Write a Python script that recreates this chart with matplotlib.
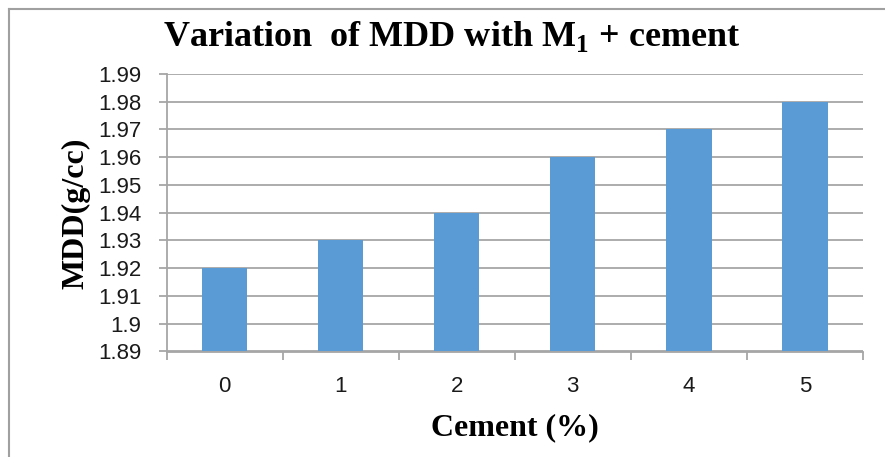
import numpy as np
import matplotlib.pyplot as plt
from matplotlib.lines import Line2D

# data
cement = ['0', '1', '2', '3', '4', '5']
mdd = [1.92, 1.93, 1.94, 1.96, 1.97, 1.98]
yticks = [1.89, 1.90, 1.91, 1.92, 1.93, 1.94, 1.95, 1.96, 1.97, 1.98, 1.99]
ytick_labels = ['1.89', '1.9', '1.91', '1.92', '1.93', '1.94', '1.95',
                '1.96', '1.97', '1.98', '1.99']

plt.rcParams['mathtext.fontset'] = 'custom'
plt.rcParams['mathtext.rm'] = 'Liberation Serif:bold'
plt.rcParams['mathtext.bf'] = 'Liberation Serif:bold'

W, H = 885, 457
fig = plt.figure(figsize=(W / 100, H / 100), dpi=100)
ax = fig.add_axes([166.5 / W, 1 - 351.5 / H, (863 - 166.5) / W, (351.5 - 74) / H])

grey = '#a6a6a6'
x = np.arange(len(cement))
ax.bar(x, [v - 1.89 for v in mdd], bottom=1.89, width=0.39,
       color='#5b9bd5', zorder=3)

ax.set_xlim(-0.5, len(cement) - 0.5)
ax.set_ylim(1.89, 1.99)
ax.set_yticks(yticks)
ax.set_yticklabels(ytick_labels)
ax.set_xticks(x)
ax.set_xticklabels(cement)
ax.set_xticks(np.arange(-0.5, len(cement)), minor=True)

ax.grid(axis='y', color=grey, linewidth=1.3, zorder=0)
ax.tick_params(axis='x', which='major', length=0, pad=18,
               labelsize=16, labelcolor='#1a1a1a')
ax.tick_params(axis='x', which='minor', length=6, width=1.3, color=grey)
ax.tick_params(axis='y', length=6, width=1.3, color=grey, pad=12,
               labelsize=16, labelcolor='#1a1a1a')
for lab in ax.get_xticklabels() + ax.get_yticklabels():
    lab.set_family('Liberation Sans')

for s in ['top', 'right']:
    ax.spines[s].set_visible(False)
for s in ['left', 'bottom']:
    ax.spines[s].set_color(grey)
    ax.spines[s].set_linewidth(1.3)

serif = 'Liberation Serif'
fig.text(452 / W, 1 - 36 / H, 'Variation  of MDD with M$_{\\mathrm{1}}$ + cement',
         ha='center', va='center', fontsize=26, fontweight='bold',
         family=serif)
fig.text(515 / W, 1 - 428 / H, 'Cement (%)', ha='center', va='center',
         fontsize=23, fontweight='bold', family=serif)
fig.text(76 / W, 1 - 213 / H, 'MDD(g/cc)', rotation=90, ha='center',
         va='center', fontsize=23, fontweight='bold', family=serif)

# frame lines at top and left
fig.add_artist(Line2D([8.5 / W, 8.5 / W], [0, 1 - 8.5 / H], color='#a0a0a0',
                      linewidth=1.5, transform=fig.transFigure))
fig.add_artist(Line2D([8.5 / W, 1], [1 - 8.5 / H, 1 - 8.5 / H], color='#a0a0a0',
                      linewidth=1.5, transform=fig.transFigure))

fig.savefig('out.png', dpi=100)
